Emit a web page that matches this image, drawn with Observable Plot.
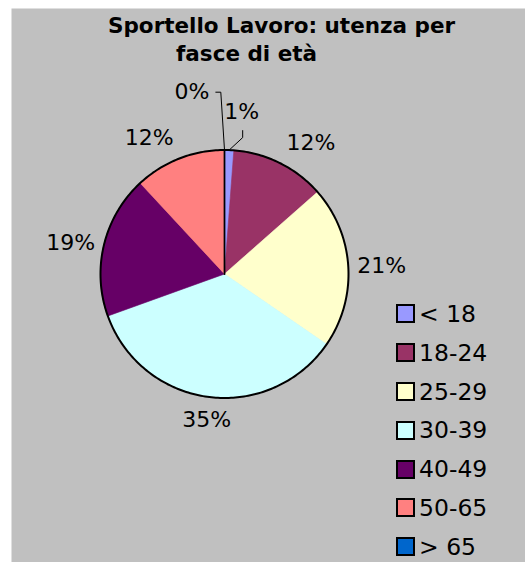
<!DOCTYPE html>
<html>
<head>
<meta charset="utf-8">
<script src="https://cdn.jsdelivr.net/npm/d3@7"></script>
<script src="https://cdn.jsdelivr.net/npm/@observablehq/plot@0.6"></script>
<style>
  html, body { margin: 0; padding: 0; background: #fff; overflow: hidden; }
  #wrap { position: relative; width: 525px; height: 562px; font-family: "DejaVu Sans", Verdana, sans-serif; }
  #chart { position: absolute; left: 0; top: 0; }
  .title { position: absolute; font-weight: bold; font-size: 21.5px; line-height: 28.4px; color: #000; white-space: nowrap; }
  #legend { position: absolute; left: 396px; top: 294.6px; }
  .row { display: flex; align-items: center; height: 38.8px; font-size: 23.5px; color: #000; }
  .sw { width: 15px; height: 15px; border: 2px solid #000; }
  .lab { margin-left: 4px; white-space: nowrap; }
</style>
</head>
<body>
<div id="wrap">
  <div id="chart"></div>
  <div id="legend"></div>
</div>
<script>
// ---- data ----
const ages = ["< 18", "18-24", "25-29", "30-39", "40-49", "50-65", "> 65"];
const shares = [1.2, 12.3, 21.1, 34.9, 18.6, 11.9, 0];
const colors = ["#9999ff", "#993366", "#ffffcc", "#ccffff", "#660066", "#ff8080", "#0066cc"];
const titleLines = ["Sportello Lavoro: utenza per", "fasce di età"];

// ---- layout ----
const W = 525, H = 562;
const ML = 11, MT = 8;
const CX = 224, CY = 273.5, R = 124;
const titleLefts = [108, 176];
const titleTop = 11.6;
const labelSize = 22;
// leader-line layout for tiny slices (pixel offsets from the slice's edge point)
const leaderLayout = {
  "< 18": { path: [[0, 0], [13.5, -12.5], [13.5, -19.5]], label: [-1, -12], textAnchor: "middle", lineAnchor: "bottom" },
  "> 65": { path: [[0, 0], [-3.7, -57.8], [-8.7, -57.8]], label: [-6.5, 0], textAnchor: "end", lineAnchor: "middle" }
};

const total = d3.sum(shares);
let acc = 0;
const slices = ages.map((age, i) => {
  const a0 = acc / total * 2 * Math.PI;
  acc += shares[i];
  const a1 = acc / total * 2 * Math.PI;
  return { age, value: shares[i], a0, a1, mid: (a0 + a1) / 2, label: Math.round(shares[i]) + "%" };
});

function arcPoints(s) {
  const pts = [{ age: s.age, x: 0, y: 0 }];
  const n = Math.max(2, Math.ceil((s.a1 - s.a0) / (Math.PI / 360)));
  for (let k = 0; k <= n; k++) {
    const a = s.a0 + (s.a1 - s.a0) * k / n;
    pts.push({ age: s.age, x: Math.sin(a), y: Math.cos(a) });
  }
  pts.push({ age: s.age, x: 0, y: 0 });
  return pts;
}

const piePts = slices.filter(s => s.value > 0).flatMap(arcPoints);
const zeroPts = slices.filter(s => s.value === 0).flatMap(arcPoints);
const circlePts = d3.range(0, 361).map(d => ({ x: Math.sin(d * Math.PI / 180), y: Math.cos(d * Math.PI / 180) }));

const labelMarks = [];
const leaderPts = [];
for (const s of slices) {
  const sn = Math.sin(s.mid), cs = Math.cos(s.mid);
  const lay = leaderLayout[s.age];
  if (lay) {
    const pts = lay.path.map(([dx, dy]) => ({ age: s.age, x: sn + dx / R, y: cs - dy / R }));
    leaderPts.push(...pts);
    const last = pts[pts.length - 1];
    labelMarks.push(Plot.text([s], {
      x: () => last.x + lay.label[0] / R, y: () => last.y - lay.label[1] / R,
      text: "label", textAnchor: lay.textAnchor, lineAnchor: lay.lineAnchor,
      fontSize: labelSize, fill: "#000"
    }));
  } else {
    const textAnchor = sn > 0.3 ? "start" : sn < -0.3 ? "end" : "middle";
    const lineAnchor = cs > 0.3 ? "bottom" : cs < -0.3 ? "top" : "middle";
    const gap = lineAnchor === "middle" ? 9 : 15;
    const rr = (R + gap) / R;
    labelMarks.push(Plot.text([s], {
      x: d => rr * Math.sin(d.mid), y: d => rr * Math.cos(d.mid),
      text: "label", textAnchor, lineAnchor, fontSize: labelSize, fill: "#000"
    }));
  }
}

const chart = Plot.plot({
  width: W, height: H,
  marginLeft: ML, marginTop: MT, marginRight: 0, marginBottom: 0,
  x: { domain: [(ML - CX) / R, (W - CX) / R], axis: null },
  y: { domain: [(CY - H) / R, (CY - MT) / R], axis: null },
  color: { type: "ordinal", domain: ages, range: colors },
  style: { background: "transparent", fontFamily: "DejaVu Sans, Verdana, sans-serif", overflow: "visible" },
  marks: [
    Plot.frame({ fill: "#c0c0c0", stroke: "none" }),
    Plot.line(piePts, { x: "x", y: "y", z: "age", fill: "age", stroke: "age", strokeWidth: 0.6, curve: "linear" }),
    Plot.line(zeroPts, { x: "x", y: "y", z: "age", stroke: "#000", strokeWidth: 1.75, curve: "linear" }),
    Plot.line(circlePts, { x: "x", y: "y", stroke: "#000", strokeWidth: 2, curve: "linear" }),
    Plot.line(leaderPts, { x: "x", y: "y", z: "age", stroke: "#000", strokeWidth: 1, curve: "linear" }),
    ...labelMarks
  ]
});
document.getElementById("chart").appendChild(chart);

const wrap = document.getElementById("wrap");
titleLines.forEach((t, i) => {
  const d = document.createElement("div");
  d.className = "title";
  d.textContent = t;
  d.style.left = titleLefts[i] + "px";
  d.style.top = (titleTop + i * 28.4) + "px";
  wrap.appendChild(d);
});

const legend = document.getElementById("legend");
ages.forEach((a, i) => {
  const row = document.createElement("div");
  row.className = "row";
  const sw = document.createElement("div");
  sw.className = "sw";
  sw.style.background = colors[i];
  const lab = document.createElement("span");
  lab.className = "lab";
  lab.textContent = a;
  row.appendChild(sw);
  row.appendChild(lab);
  legend.appendChild(row);
});
</script>
</body>
</html>
